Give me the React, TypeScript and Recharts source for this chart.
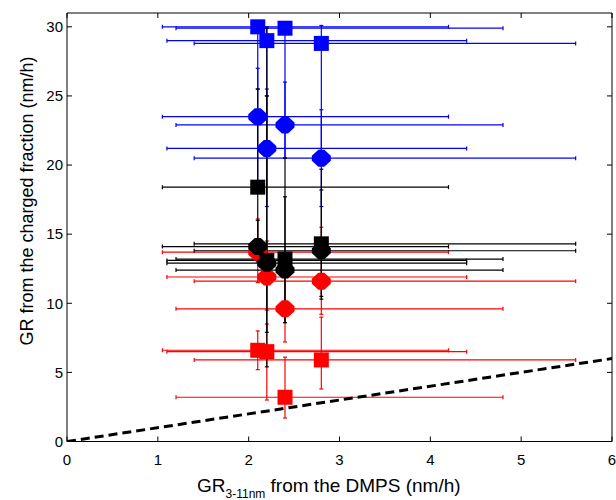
import React from 'react';
import { ScatterChart, Scatter, XAxis, YAxis, ErrorBar } from 'recharts';

const FONT = '"Liberation Sans", Arial, Helvetica, sans-serif';

// GR from the DMPS for the four events, with their lower / upper limits
const dmpsGR = [2.1, 2.2, 2.4, 2.8];
const dmpsLow = [1.05, 1.1, 1.2, 1.4];
const dmpsHigh = [4.2, 4.4, 4.8, 5.6];

// GR from the charged fraction, per group (value, lower, upper)
const blueSquareGR = [30.0, 29.0, 29.9, 28.8];
const blueSquareLow = [25.5, 25.0, 20.5, 20.3];
const blueSquareHigh = [30.2, 30.0, 30.3, 30.1];

const blueDiamondGR = [23.5, 21.2, 22.9, 20.5];
const blueDiamondLow = [18.5, 17.0, 20.5, 17.0];
const blueDiamondHigh = [27.0, 25.5, 26.0, 24.0];

const blackSquareGR = [18.4, 13.1, 13.2, 14.3];
const blackSquareLow = [13.5, 5.4, 8.6, 10.3];
const blackSquareHigh = [25.5, 29.9, 20.5, 19.7];

const blackDiamondGR = [14.1, 12.9, 12.4, 13.8];
const blackDiamondLow = [13.0, 7.9, 8.6, 10.5];
const blackDiamondHigh = [16.0, 25.0, 17.7, 18.2];

const redSquareGR = [6.6, 6.5, 3.2, 5.9];
const redSquareLow = [5.2, 3.0, 1.7, 3.8];
const redSquareHigh = [8.0, 8.5, 6.1, 9.0];

const redDiamondGR = [13.7, 11.9, 9.6, 11.6];
const redDiamondLow = [11.5, 9.5, 7.2, 9.2];
const redDiamondHigh = [16.1, 14.5, 12.0, 15.5];

// 1:1 line
const oneToOneX = [0, 6];
const oneToOneY = [0, 6];

const xTicks = [0, 1, 2, 3, 4, 5, 6];
const yTicks = [0, 5, 10, 15, 20, 25, 30];

const build = (ys: number[], lo: number[], hi: number[]) =>
  dmpsGR.map((x, i) => ({
    x,
    y: ys[i],
    ex: [x - dmpsLow[i], dmpsHigh[i] - x],
    ey: [ys[i] - lo[i], hi[i] - ys[i]],
  }));

const oneToOne = oneToOneX.map((x, i) => ({ x, y: oneToOneY[i] }));

const squareShape = (color: string) => (props: any) => (
  <rect x={props.cx - 7.5} y={props.cy - 7.5} width={15} height={15} fill={color} />
);

const diamondShape = (color: string) => (props: any) => {
  const { cx, cy } = props;
  const pts = [
    [-3, -8.5], [3, -8.5], [9.5, -2.5], [9.5, 2.5],
    [3, 8.5], [-3, 8.5], [-9.5, 2.5], [-9.5, -2.5],
  ].map(([dx, dy]) => `${cx + dx},${cy + dy}`).join(' ');
  return <polygon points={pts} fill={color} />;
};

const groups = [
  { name: 'red-sq', color: '#ff0000', data: build(redSquareGR, redSquareLow, redSquareHigh), shape: squareShape('#ff0000') },
  { name: 'red-di', color: '#ff0000', data: build(redDiamondGR, redDiamondLow, redDiamondHigh), shape: diamondShape('#ff0000') },
  { name: 'blue-sq', color: '#0000ff', data: build(blueSquareGR, blueSquareLow, blueSquareHigh), shape: squareShape('#0000ff') },
  { name: 'blue-di', color: '#0000ff', data: build(blueDiamondGR, blueDiamondLow, blueDiamondHigh), shape: diamondShape('#0000ff') },
  { name: 'black-sq', color: '#000000', data: build(blackSquareGR, blackSquareLow, blackSquareHigh), shape: squareShape('#000000') },
  { name: 'black-di', color: '#000000', data: build(blackDiamondGR, blackDiamondLow, blackDiamondHigh), shape: diamondShape('#000000') },
];

const noMark = () => <g />;

export default function App() {
  return (
    <div style={{ position: 'absolute', left: 0, top: 0, width: 616, height: 500, background: '#fff' }}>
      <ScatterChart width={616} height={500} margin={{ top: 3, right: 0, bottom: 28.5, left: 27 }}>
        <XAxis
          dataKey="x"
          type="number"
          domain={[0, 6]}
          ticks={xTicks}
          height={30}
          tickSize={-5}
          tickMargin={18}
          stroke="#000"
          tick={{ fill: '#000', fontSize: 15, fontFamily: FONT }}
          allowDataOverflow
        />
        <XAxis xAxisId="top" dataKey="x" orientation="top" type="number" domain={[0, 6]} ticks={xTicks} height={10} tickSize={-5} tick={noMark} stroke="#000" allowDataOverflow />
        <YAxis
          dataKey="y"
          type="number"
          domain={[0, 31]}
          ticks={yTicks}
          width={40}
          tickSize={-5}
          tickMargin={9}
          stroke="#000"
          tick={{ fill: '#000', fontSize: 15, fontFamily: FONT }}
          allowDataOverflow
        />
        <YAxis yAxisId="right" dataKey="y" orientation="right" type="number" domain={[0, 31]} ticks={yTicks} width={4} tickSize={-5} tick={noMark} stroke="#000" allowDataOverflow />

        {/* carries the top and right frame axes */}
        <Scatter xAxisId="top" yAxisId="right" data={oneToOne} shape={noMark} isAnimationActive={false} />

        <Scatter
          data={oneToOne}
          line={{ stroke: '#000', strokeWidth: 3, strokeDasharray: '9 5' }}
          shape={noMark}
          isAnimationActive={false}
        />

        {groups.map((g) => (
          <Scatter key={g.name} data={g.data} shape={g.shape} isAnimationActive={false}>
            <ErrorBar dataKey="ex" direction="x" width={2} stroke={g.color} strokeWidth={1.2} isAnimationActive={false} />
            <ErrorBar dataKey="ey" direction="y" width={2} stroke={g.color} strokeWidth={1.2} isAnimationActive={false} />
          </Scatter>
        ))}
      </ScatterChart>
      <svg width={616} height={500} style={{ position: 'absolute', left: 0, top: 0, pointerEvents: 'none' }}>
        <text x={197} y={492} fontSize={19} fontFamily={FONT} fill="#000">
          GR<tspan dy={6} fontSize={12}>3-11nm</tspan>
          <tspan dy={-6}> from the DMPS (nm/h)</tspan>
        </text>
        <text transform="translate(33,201) rotate(-90)" textAnchor="middle" fontSize={18} fontFamily={FONT} fill="#000">
          GR from the charged fraction (nm/h)
        </text>
      </svg>
    </div>
  );
}
